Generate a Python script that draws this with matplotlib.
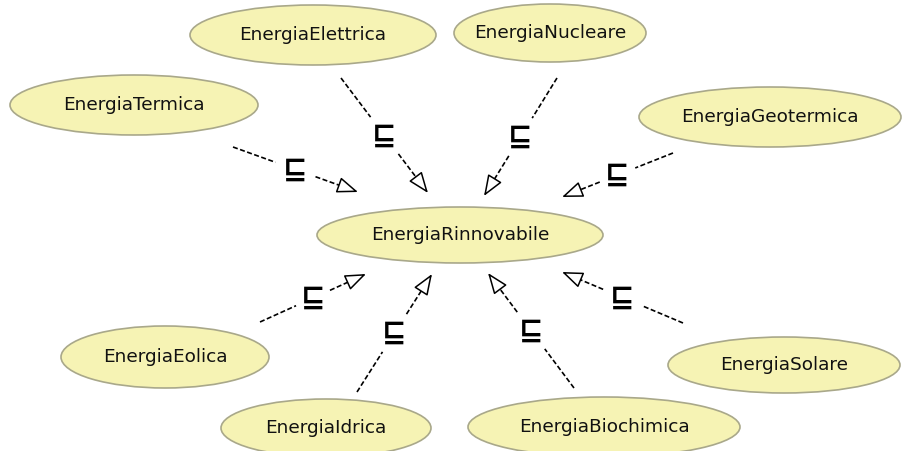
import numpy as np
import matplotlib
matplotlib.use("Agg")
import matplotlib.pyplot as plt
from matplotlib.patches import Ellipse

# nodes of the diagram
parent = "EnergiaRinnovabile"
children = ["EnergiaTermica", "EnergiaElettrica", "EnergiaNucleare", "EnergiaGeotermica",
            "EnergiaEolica", "EnergiaIdrica", "EnergiaBiochimica", "EnergiaSolare"]
symbol = "\u2291"

# layout (pixel coords): centre x, centre y, width, height
node_box = {
    "EnergiaRinnovabile": (460, 235, 286, 56),
    "EnergiaTermica": (134, 105, 248, 60),
    "EnergiaElettrica": (313, 35, 246, 60),
    "EnergiaNucleare": (550, 33, 192, 58),
    "EnergiaGeotermica": (770, 117, 262, 60),
    "EnergiaEolica": (165, 357, 208, 62),
    "EnergiaIdrica": (326, 428, 210, 58),
    "EnergiaBiochimica": (604, 427, 272, 60),
    "EnergiaSolare": (784, 365, 232, 56),
}
# edge start (near child) and arrow tip (near parent)
edge_pts = {
    "EnergiaTermica": ((233, 147), (358, 192)),
    "EnergiaElettrica": ((341, 78), (428, 193)),
    "EnergiaNucleare": ((557, 78), (484, 196)),
    "EnergiaGeotermica": ((673, 153), (562, 197)),
    "EnergiaEolica": ((260, 322), (366, 274)),
    "EnergiaIdrica": ((357, 392), (432, 274)),
    "EnergiaBiochimica": ((574, 388), (488, 273)),
    "EnergiaSolare": ((683, 323), (562, 272)),
}

fig = plt.figure(figsize=(9.17, 4.51), dpi=100)
ax = fig.add_axes([0, 0, 1, 1])
ax.set_xlim(0, 917)
ax.set_ylim(451, 0)
ax.axis("off")

for name in [parent] + children:
    cx, cy, w, h = node_box[name]
    ax.add_patch(Ellipse((cx, cy), w, h, facecolor="#f6f3b4", edgecolor="#a9a88a", lw=1.2, zorder=2))
    ax.text(cx, cy, name, ha="center", va="center", fontsize=13.3, color="#111111",
            family="DejaVu Sans", zorder=3)

dash = (0, (3, 1.5))
for name in children:
    s, e = np.array(edge_pts[name][0], float), np.array(edge_pts[name][1], float)
    p = lambda t: s + (e - s) * t
    a, b = p(0.0), p(0.34)
    ax.plot([a[0], b[0]], [a[1], b[1]], color="black", lw=1.2, ls=dash, zorder=1)
    c, d = p(0.66), p(0.86)
    ax.plot([c[0], d[0]], [c[1], d[1]], color="black", lw=1.2, ls=dash, zorder=1)
    ax.annotate("", xy=e, xytext=d,
                arrowprops=dict(arrowstyle="-|>,head_length=1.3,head_width=0.5", fc="white",
                                ec="black", lw=1.1, shrinkA=0, shrinkB=0))
    m = p(0.5)
    ax.text(m[0], m[1], symbol, ha="center", va="center", fontsize=21, fontweight="bold",
            color="black", family="DejaVu Sans")

fig.savefig("out.png", dpi=100, facecolor="white")
